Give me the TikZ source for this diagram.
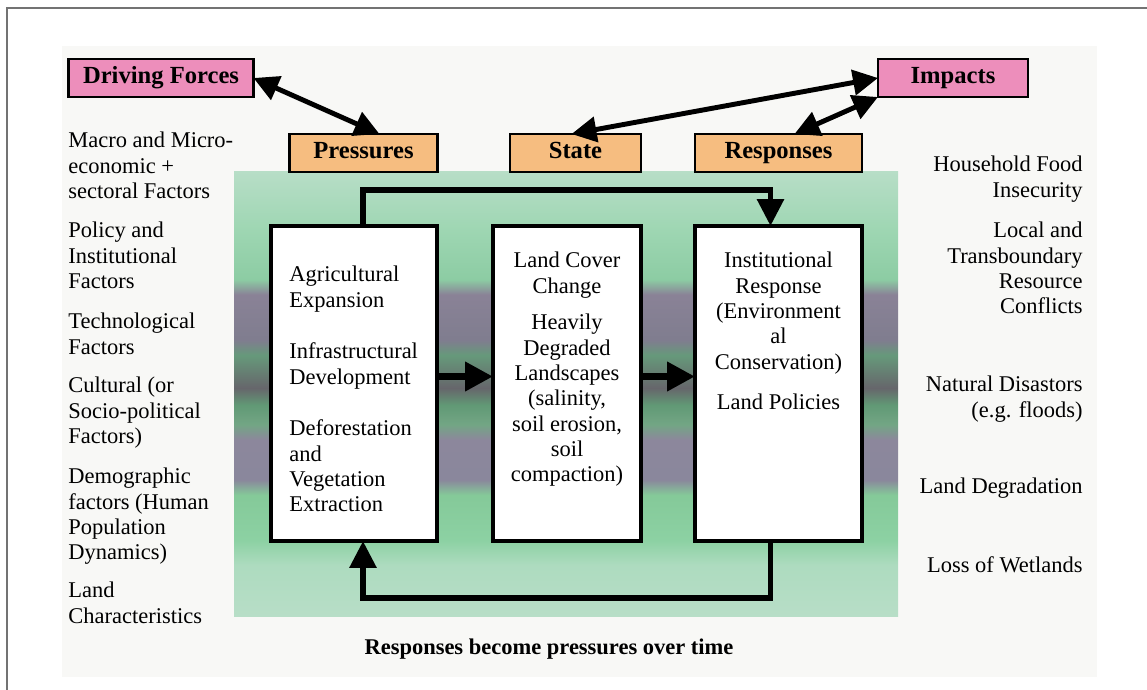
\documentclass[tikz,border=0pt]{standalone}
\usepackage{fontspec}
\setmainfont{Liberation Serif}
\usetikzlibrary{arrows.meta,calc}
\definecolor{forcepink}{RGB}{237,142,187}
\definecolor{pressorange}{RGB}{246,189,128}
\definecolor{paper}{RGB}{248,248,246}
\pgfdeclareverticalshading{bandshade}{100bp}{%
  rgb(0bp)=(0.72,0.87,0.78);
  rgb(25bp)=(0.72,0.87,0.78);
  rgb(30.7bp)=(0.68,0.86,0.75);
  rgb(33.5bp)=(0.55,0.82,0.64);
  rgb(38.6bp)=(0.52,0.79,0.60);
  rgb(40.3bp)=(0.54,0.53,0.61);
  rgb(44.8bp)=(0.55,0.53,0.61);
  rgb(46.5bp)=(0.45,0.65,0.52);
  rgb(48.7bp)=(0.38,0.60,0.46);
  rgb(50.6bp)=(0.40,0.40,0.42);
  rgb(54.3bp)=(0.40,0.60,0.48);
  rgb(56bp)=(0.50,0.49,0.56);
  rgb(61.1bp)=(0.54,0.51,0.59);
  rgb(62.8bp)=(0.55,0.80,0.64);
  rgb(68.4bp)=(0.62,0.84,0.70);
  rgb(75bp)=(0.72,0.87,0.78);
  rgb(100bp)=(0.72,0.87,0.78)}

\begin{document}
\begin{tikzpicture}[x=0.02cm,y=-0.02cm,
  font=\fontsize{12.8}{14.4}\selectfont,
  head/.style={draw,line width=1.6pt,inner sep=0pt,outer sep=0pt,
    minimum height=0.76cm,text height=1.6ex,text depth=0.2ex,
    font=\fontsize{14}{16}\selectfont\bfseries},
  big/.style={draw,fill=white,line width=2pt,inner sep=0pt,outer sep=0pt,
    minimum height=6.3cm},
  note/.style={inner sep=0pt},
  both/.style={line width=2.8pt,
    {Triangle[length=0.5cm,width=0.5cm]}-{Triangle[length=0.5cm,width=0.5cm]}},
  loopline/.style={line width=3.4pt,-{Triangle[length=0.54cm,width=0.52cm]}},
  fwd/.style={line width=4.5pt,-{Triangle[length=0.56cm,width=0.56cm]}}]
  \useasboundingbox (0,0) rectangle (1147,690);
  \draw[black!55,line width=0.8pt] (7,690) -- (7,8) -- (1147,8);
  \fill[paper] (62,46) rectangle (1097,677);
  \shade[shading=bandshade] (234,171) rectangle (898,616);

  \node[head,fill=forcepink,minimum width=3.7cm] (dforce) at (161,78) {Driving Forces};
  \node[head,fill=forcepink,minimum width=3.0cm] (impacts) at (953,78) {Impacts};
  \node[head,fill=pressorange,minimum width=2.96cm] (press) at (363.5,153) {Pressures};
  \node[head,fill=pressorange,minimum width=2.62cm] (state) at (575.5,153) {State};
  \node[head,fill=pressorange,minimum width=3.34cm] (resp) at (778.5,153) {Responses};

  \node[big,minimum width=3.32cm] (pbox) at (354,383.5) {};
  \node[big,minimum width=2.96cm] (sbox) at (567,383.5) {};
  \node[big,minimum width=3.34cm] (rbox) at (778.5,383.5) {};

  \draw[both] (dforce.east) -- ($(press.north)+(16,0)$);
  \draw[both] ($(state.north)+(-4,0)$) -- (impacts.west);
  \draw[both] ($(resp.north)+(16,0)$) -- (impacts.south west);

  \draw[loopline] ($(pbox.north)+(9,0)$) -- ++(0,-36) -| ($(rbox.north)+(-8,0)$);
  \draw[loopline] ($(rbox.south)+(-8,0)$) -- ++(0,57) -| ($(pbox.south)+(9,0)$);
  \draw[fwd] ($(pbox.east)+(0,-7)$) -- ($(sbox.west)+(0,-7)$);
  \draw[fwd] ($(sbox.east)+(0,-7)$) -- ($(rbox.west)+(0,-7)$);

  % text in the boxes
  \node[note,anchor=north west,align=left] (ptext) at (289,266)
    {Agricultural\\Expansion\\[15pt]Infrastructural\\Development\\[15pt]Deforestation\\and\\Vegetation\\Extraction};
  \node[note,anchor=north,align=center] (stext) at (567,252)
    {Land Cover\\Change\\[6.5pt]Heavily\\Degraded\\Landscapes\\(salinity,\\soil erosion,\\soil\\compaction)};
  \node[note,anchor=north,align=center] (rtext) at (778.5,252)
    {Institutional\\Response\\(Environment\\al\\Conservation)\\[8.5pt]Land Policies};

  % driving forces
  \node[note,anchor=north west,align=left] (df1) at (68,132) {Macro and Micro-\\economic +\\sectoral Factors};
  \node[note,anchor=north west,align=left] (df2) at (68,222) {Policy and\\Institutional\\Factors};
  \node[note,anchor=north west,align=left] (df3) at (68,313) {Technological\\Factors};
  \node[note,anchor=north west,align=left] (df4) at (68,377) {Cultural (or\\Socio-political\\Factors)};
  \node[note,anchor=north west,align=left] (df5) at (68,468) {Demographic\\factors (Human\\Population\\Dynamics)};
  \node[note,anchor=north west,align=left] (df6) at (68,582) {Land\\Characteristics};

  % impacts
  \node[note,anchor=north east,align=right] (im1) at (1083,156) {Household Food\\Insecurity};
  \node[note,anchor=north east,align=right] (im2) at (1083,222) {Local and\\Transboundary\\Resource\\Conflicts};
  \node[note,anchor=north east,align=right] (im3) at (1083,376) {Natural Disastors\\(e.g. floods)};
  \node[note,anchor=north east,align=right] (im4) at (1083,478) {Land Degradation};
  \node[note,anchor=north east,align=right] (im5) at (1083,556) {Loss of Wetlands};

  \node[font=\fontsize{12.8}{14.4}\selectfont\bfseries] (caption) at (549,649)
    {Responses become pressures over time};
\end{tikzpicture}
\end{document}
